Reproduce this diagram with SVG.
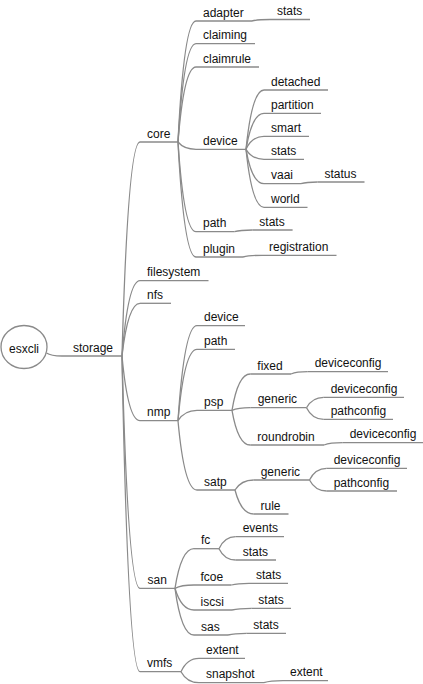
<svg xmlns="http://www.w3.org/2000/svg" width="423" height="684" viewBox="0 0 423 684">
<style>
text{font-family:"Liberation Sans",Arial,sans-serif;font-size:12px;fill:#111}
.u{stroke:#8a8a8a;stroke-width:1.3;fill:none}
.c path{stroke:#8a8a8a;stroke-width:1.3;fill:none}
</style>
<rect width="423" height="684" fill="#fff"/>
<g id="connectors" class="c">
<path d="M46.5 353 Q51 356 62 356"/>
<path d="M122 356 Q128 142 140 142"/>
<path d="M122 356 Q128 280.7 140 280.7"/>
<path d="M122 356 Q128 303.3 140 303.3"/>
<path d="M122 356 Q128 420.7 140 420.7"/>
<path d="M122 356 Q128 588.3 140 588.3"/>
<path d="M122 356 Q128 671.7 140 671.7"/>
<path d="M178 142 Q184 21 196 21"/>
<path d="M178 142 Q184 43.7 196 43.7"/>
<path d="M178 142 Q184 67 196 67"/>
<path d="M178 142 Q184 149.3 196 149.3"/>
<path d="M178 142 Q184 231.7 196 231.7"/>
<path d="M178 142 Q184 257 196 257"/>
<path d="M252 21 Q258 19.5 270 19.5"/>
<path d="M246 149.3 Q252 90 264 90"/>
<path d="M246 149.3 Q252 113.3 264 113.3"/>
<path d="M246 149.3 Q252 136.3 264 136.3"/>
<path d="M246 149.3 Q252 159.3 264 159.3"/>
<path d="M246 149.3 Q252 183.7 264 183.7"/>
<path d="M246 149.3 Q252 207.3 264 207.3"/>
<path d="M301 183.7 Q306.5 182 317.5 182"/>
<path d="M234.4 231.7 Q240.4 230 252.3 230"/>
<path d="M243 257 Q249.3 255.3 262 255.3"/>
<path d="M178 420.7 Q184.3 325.7 197 325.7"/>
<path d="M178 420.7 Q184.3 349.3 197 349.3"/>
<path d="M178 420.7 Q184.3 410.3 197 410.3"/>
<path d="M178 420.7 Q184.3 490 197 490"/>
<path d="M232 410.3 Q238 374 250.3 374"/>
<path d="M232 410.3 Q238 407.7 250.3 407.7"/>
<path d="M232 410.3 Q238 445 250.3 445"/>
<path d="M291 374 Q296.6 371.7 307.7 371.7"/>
<path d="M306.5 407.7 Q312.2 397.3 323.7 397.3"/>
<path d="M306.5 407.7 Q312.2 419.3 323.7 419.3"/>
<path d="M324 445 Q330.2 442.7 342.7 442.7"/>
<path d="M235 490 Q241.2 480 253.7 480"/>
<path d="M235 490 Q241.2 514 253.7 514"/>
<path d="M309.5 480 Q315.2 468.3 326.7 468.3"/>
<path d="M309.5 480 Q315.2 491 326.7 491"/>
<path d="M175 588.3 Q181.3 548.7 194 548.7"/>
<path d="M175 588.3 Q181.3 585 194 585"/>
<path d="M175 588.3 Q181.3 610 194 610"/>
<path d="M175 588.3 Q181.3 635 194 635"/>
<path d="M219 548.7 Q224.6 536.7 235.7 536.7"/>
<path d="M219 548.7 Q224.6 560 235.7 560"/>
<path d="M231.5 585 Q237.3 583.3 249 583.3"/>
<path d="M232 610 Q238.4 608.3 251.3 608.3"/>
<path d="M228 635 Q234.1 633.3 246.3 633.3"/>
<path d="M181 671.7 Q187 658.3 199 658.3"/>
<path d="M181 671.7 Q187 682.7 199 682.7"/>
<path d="M264 682.7 Q270.3 680.7 283 680.7"/>
</g>
<g id="esxcli"><ellipse cx="24" cy="347" rx="23" ry="21.5" fill="#fff" stroke="#8a8a8a" stroke-width="1.3"/><text x="24" y="353" text-anchor="middle">esxcli</text></g>
<g id="storage"><text x="73" y="351.5">storage</text><line class="u" x1="62" y1="356" x2="122" y2="356"/></g>
<g id="core"><text x="147" y="137.5">core</text><line class="u" x1="140" y1="142" x2="178" y2="142"/></g>
<g id="core-adapter"><text x="203" y="16.5">adapter</text><line class="u" x1="196" y1="21" x2="252" y2="21"/></g>
<g id="core-adapter-stats"><text x="277" y="15">stats</text><line class="u" x1="270" y1="19.5" x2="310" y2="19.5"/></g>
<g id="core-claiming"><text x="203" y="39.2">claiming</text><line class="u" x1="196" y1="43.7" x2="255" y2="43.7"/></g>
<g id="core-claimrule"><text x="203" y="62.5">claimrule</text><line class="u" x1="196" y1="67" x2="259" y2="67"/></g>
<g id="core-device"><text x="203" y="144.8">device</text><line class="u" x1="196" y1="149.3" x2="246" y2="149.3"/></g>
<g id="core-device-detached"><text x="271" y="85.5">detached</text><line class="u" x1="264" y1="90" x2="328" y2="90"/></g>
<g id="core-device-partition"><text x="271" y="108.8">partition</text><line class="u" x1="264" y1="113.3" x2="321" y2="113.3"/></g>
<g id="core-device-smart"><text x="271" y="131.8">smart</text><line class="u" x1="264" y1="136.3" x2="309" y2="136.3"/></g>
<g id="core-device-stats"><text x="271" y="154.8">stats</text><line class="u" x1="264" y1="159.3" x2="304" y2="159.3"/></g>
<g id="core-device-vaai"><text x="271" y="179.2">vaai</text><line class="u" x1="264" y1="183.7" x2="301" y2="183.7"/></g>
<g id="core-device-vaai-status"><text x="324.5" y="177.5">status</text><line class="u" x1="317.5" y1="182" x2="364.5" y2="182"/></g>
<g id="core-device-world"><text x="271" y="202.8">world</text><line class="u" x1="264" y1="207.3" x2="307.5" y2="207.3"/></g>
<g id="core-path"><text x="203" y="227.2">path</text><line class="u" x1="196" y1="231.7" x2="234.4" y2="231.7"/></g>
<g id="core-path-stats"><text x="259.3" y="225.5">stats</text><line class="u" x1="252.3" y1="230" x2="292.6" y2="230"/></g>
<g id="core-plugin"><text x="203" y="252.5">plugin</text><line class="u" x1="196" y1="257" x2="243" y2="257"/></g>
<g id="core-plugin-registration"><text x="269" y="250.8">registration</text><line class="u" x1="262" y1="255.3" x2="336.5" y2="255.3"/></g>
<g id="filesystem"><text x="147" y="276.2">filesystem</text><line class="u" x1="140" y1="280.7" x2="208.5" y2="280.7"/></g>
<g id="nfs"><text x="147" y="298.8">nfs</text><line class="u" x1="140" y1="303.3" x2="171" y2="303.3"/></g>
<g id="nmp"><text x="147" y="416.2">nmp</text><line class="u" x1="140" y1="420.7" x2="178" y2="420.7"/></g>
<g id="nmp-device"><text x="204" y="321.2">device</text><line class="u" x1="197" y1="325.7" x2="245" y2="325.7"/></g>
<g id="nmp-path"><text x="204" y="344.8">path</text><line class="u" x1="197" y1="349.3" x2="235" y2="349.3"/></g>
<g id="nmp-psp"><text x="204" y="405.8">psp</text><line class="u" x1="197" y1="410.3" x2="232" y2="410.3"/></g>
<g id="psp-fixed"><text x="257.3" y="369.5">fixed</text><line class="u" x1="250.3" y1="374" x2="291" y2="374"/></g>
<g id="psp-fixed-deviceconfig"><text x="314.7" y="367.2">deviceconfig</text><line class="u" x1="307.7" y1="371.7" x2="388" y2="371.7"/></g>
<g id="psp-generic"><text x="257.7" y="403.2">generic</text><line class="u" x1="250.3" y1="407.7" x2="306.5" y2="407.7"/></g>
<g id="psp-generic-deviceconfig"><text x="330.7" y="392.8">deviceconfig</text><line class="u" x1="323.7" y1="397.3" x2="404" y2="397.3"/></g>
<g id="psp-generic-pathconfig"><text x="330.7" y="414.8">pathconfig</text><line class="u" x1="323.7" y1="419.3" x2="393" y2="419.3"/></g>
<g id="psp-roundrobin"><text x="257.3" y="440.5">roundrobin</text><line class="u" x1="250.3" y1="445" x2="324" y2="445"/></g>
<g id="psp-roundrobin-deviceconfig"><text x="349.7" y="438.2">deviceconfig</text><line class="u" x1="342.7" y1="442.7" x2="423" y2="442.7"/></g>
<g id="nmp-satp"><text x="204" y="485.5">satp</text><line class="u" x1="197" y1="490" x2="235" y2="490"/></g>
<g id="satp-generic"><text x="260.7" y="475.5">generic</text><line class="u" x1="253.7" y1="480" x2="309.5" y2="480"/></g>
<g id="satp-generic-deviceconfig"><text x="333.7" y="463.8">deviceconfig</text><line class="u" x1="326.7" y1="468.3" x2="407" y2="468.3"/></g>
<g id="satp-generic-pathconfig"><text x="333.7" y="486.5">pathconfig</text><line class="u" x1="326.7" y1="491" x2="397" y2="491"/></g>
<g id="satp-rule"><text x="260.5" y="509.5">rule</text><line class="u" x1="253.7" y1="514" x2="288.5" y2="514"/></g>
<g id="san"><text x="147.5" y="583.8">san</text><line class="u" x1="140" y1="588.3" x2="175" y2="588.3"/></g>
<g id="san-fc"><text x="201" y="544.2">fc</text><line class="u" x1="194" y1="548.7" x2="219" y2="548.7"/></g>
<g id="san-fc-events"><text x="242.7" y="532.2">events</text><line class="u" x1="235.7" y1="536.7" x2="284" y2="536.7"/></g>
<g id="san-fc-stats"><text x="242.7" y="555.5">stats</text><line class="u" x1="235.7" y1="560" x2="276" y2="560"/></g>
<g id="san-fcoe"><text x="200.5" y="580.5">fcoe</text><line class="u" x1="194" y1="585" x2="231.5" y2="585"/></g>
<g id="san-fcoe-stats"><text x="256" y="578.8">stats</text><line class="u" x1="249" y1="583.3" x2="288" y2="583.3"/></g>
<g id="san-iscsi"><text x="200.5" y="605.5">iscsi</text><line class="u" x1="194" y1="610" x2="232" y2="610"/></g>
<g id="san-iscsi-stats"><text x="258.3" y="603.8">stats</text><line class="u" x1="251.3" y1="608.3" x2="291" y2="608.3"/></g>
<g id="san-sas"><text x="201" y="630.5">sas</text><line class="u" x1="194" y1="635" x2="228" y2="635"/></g>
<g id="san-sas-stats"><text x="253.3" y="628.8">stats</text><line class="u" x1="246.3" y1="633.3" x2="286" y2="633.3"/></g>
<g id="vmfs"><text x="147" y="667.2">vmfs</text><line class="u" x1="140" y1="671.7" x2="181" y2="671.7"/></g>
<g id="vmfs-extent"><text x="206" y="653.8">extent</text><line class="u" x1="199" y1="658.3" x2="245" y2="658.3"/></g>
<g id="vmfs-snapshot"><text x="206" y="678.2">snapshot</text><line class="u" x1="199" y1="682.7" x2="264" y2="682.7"/></g>
<g id="vmfs-snapshot-extent"><text x="290" y="676.2">extent</text><line class="u" x1="283" y1="680.7" x2="328" y2="680.7"/></g>
</svg>
